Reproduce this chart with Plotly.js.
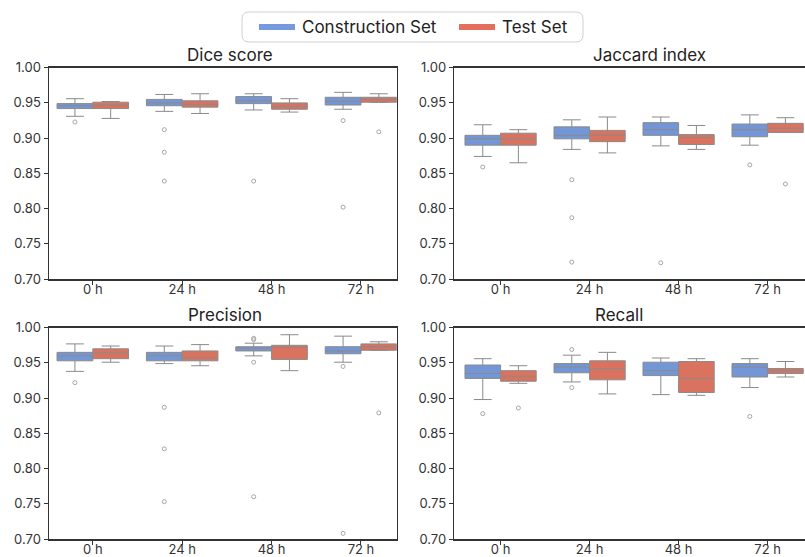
<!DOCTYPE html>
<html>
<head>
<meta charset="utf-8">
<script src="https://cdn.plot.ly/plotly-3.0.1.min.js"></script>
<style>
html,body{margin:0;padding:0;background:#fff;overflow:hidden;}
#chart{width:805px;height:557px;}
</style>
</head>
<body>
<div id="chart"></div>
<script>
// Categories and series
const timepoints = ['0 h', '24 h', '48 h', '72 h'];
const seriesNames = ['Construction Set', 'Test Set'];
const panelTitles = ['Dice score', 'Jaccard index', 'Precision', 'Recall'];

// Box statistics per time point: [lower whisker, Q1, median, Q3, upper whisker]
const diceCon = [[0.931,0.942,0.946,0.949,0.956],[0.938,0.946,0.950,0.955,0.962],[0.940,0.949,0.953,0.959,0.963],[0.941,0.947,0.952,0.958,0.965]];
const diceTest = [[0.928,0.942,0.947,0.951,0.952],[0.935,0.944,0.948,0.953,0.963],[0.937,0.941,0.945,0.950,0.956],[0.951,0.951,0.955,0.958,0.963]];
const jaccardCon = [[0.874,0.890,0.899,0.904,0.919],[0.884,0.899,0.904,0.916,0.926],[0.889,0.904,0.912,0.922,0.930],[0.890,0.902,0.912,0.920,0.933]];
const jaccardTest = [[0.865,0.890,0.899,0.907,0.912],[0.879,0.895,0.904,0.911,0.930],[0.884,0.891,0.901,0.905,0.918],[0.908,0.908,0.914,0.921,0.929]];
const precisionCon = [[0.938,0.953,0.960,0.965,0.977],[0.949,0.953,0.960,0.965,0.974],[0.960,0.967,0.971,0.973,0.978],[0.951,0.963,0.967,0.973,0.988]];
const precisionTest = [[0.951,0.956,0.964,0.970,0.974],[0.946,0.953,0.957,0.967,0.976],[0.939,0.955,0.972,0.975,0.990],[0.968,0.968,0.973,0.977,0.980]];
const recallCon = [[0.898,0.928,0.935,0.947,0.956],[0.923,0.936,0.944,0.949,0.961],[0.905,0.932,0.939,0.951,0.957],[0.915,0.930,0.944,0.949,0.956]];
const recallTest = [[0.921,0.924,0.931,0.939,0.946],[0.906,0.926,0.942,0.953,0.965],[0.904,0.908,0.928,0.952,0.956],[0.930,0.935,0.939,0.942,0.952]];

// Outliers per time point
const diceConOut = [[0.923],[0.912,0.880,0.839],[0.839],[0.925,0.802]];
const diceTestOut = [[],[],[],[0.909]];
const jaccardConOut = [[0.859],[0.841,0.787,0.724],[0.723],[0.862]];
const jaccardTestOut = [[],[],[],[0.835]];
const precisionConOut = [[0.922],[0.887,0.828,0.753],[0.985,0.983,0.951,0.760],[0.945,0.708]];
const precisionTestOut = [[],[],[],[0.879]];
const recallConOut = [[0.878],[0.969,0.915],[],[0.874]];
const recallTestOut = [[0.886],[],[],[]];

const panels = [
  {con: diceCon, test: diceTest, conOut: diceConOut, testOut: diceTestOut},
  {con: jaccardCon, test: jaccardTest, conOut: jaccardConOut, testOut: jaccardTestOut},
  {con: precisionCon, test: precisionTest, conOut: precisionConOut, testOut: precisionTestOut},
  {con: recallCon, test: recallTest, conOut: recallConOut, testOut: recallTestOut}
];

const colors = ['#7396d7', '#d9735f'];
const legendColors = ['#7799dd', '#e3705c'];
const edge = '#8a8a8a';
const W = 805, H = 557;
const fontFam = 'Inter, "Noto Sans", sans-serif';

const traces = [];
panels.forEach((p, k) => {
  const ax = k === 0 ? '' : String(k + 1);
  [[p.con, p.conOut, -0.2, 0], [p.test, p.testOut, 0.2, 1]].forEach(([stats, outs, off, s]) => {
    const xs = timepoints.map((_, i) => i + off);
    traces.push({
      type: 'box', x: xs, name: seriesNames[s],
      lowerfence: stats.map(r => r[0]), q1: stats.map(r => r[1]), median: stats.map(r => r[2]),
      q3: stats.map(r => r[3]), upperfence: stats.map(r => r[4]),
      width: 0.4, whiskerwidth: 0.5, boxpoints: false,
      fillcolor: colors[s], line: {color: edge, width: 1},
      xaxis: 'x' + ax, yaxis: 'y' + ax, showlegend: false, hoverinfo: 'skip'
    });
    const ox = [], oy = [];
    outs.forEach((arr, i) => arr.forEach(v => { ox.push(i + off); oy.push(v); }));
    traces.push({
      type: 'scatter', mode: 'markers', x: ox, y: oy,
      marker: {symbol: 'circle-open', size: 4, color: '#a6a6a6', line: {width: 1, color: '#a6a6a6'}},
      xaxis: 'x' + ax, yaxis: 'y' + ax, showlegend: false, hoverinfo: 'skip'
    });
  });
});

const xDom = [[49 / W, 396.7 / W], [454.3 / W, 1]];
const yDom = [[1 - 279 / H, 1 - 67.7 / H], [1 - 539 / H, 1 - 327.7 / H]];
const xRanges = [[-0.49, 3.40], [-0.52, 3.42]];
const axFont = {family: fontFam, size: 13, color: '#333'};

// Legend (drawn manually to match the reference's rounded frame)
const legendLines = [[259, 295], [459, 495]];
const legendTextX = [300, 500];
const legendY = 27;

const layout = {
  width: W, height: H,
  margin: {l: 0, r: 0, t: 0, b: 0, autoexpand: false},
  paper_bgcolor: '#fff', plot_bgcolor: '#fff',
  showlegend: false,
  annotations: [],
  shapes: [{type: 'path', xref: 'paper', yref: 'paper', layer: 'below',
    path: (() => {
      const x0 = 242 / W, x1 = 583 / W, y0 = 1 - 42 / H, y1 = 1 - 12 / H, rx = 7 / W, ry = 7 / H;
      return `M ${x0 + rx} ${y0} L ${x1 - rx} ${y0} Q ${x1} ${y0} ${x1} ${y0 + ry} L ${x1} ${y1 - ry} Q ${x1} ${y1} ${x1 - rx} ${y1} L ${x0 + rx} ${y1} Q ${x0} ${y1} ${x0} ${y1 - ry} L ${x0} ${y0 + ry} Q ${x0} ${y0} ${x0 + rx} ${y0} Z`;
    })(),
    line: {color: '#d0d0d0', width: 1}, fillcolor: 'rgba(0,0,0,0)'}]
};

seriesNames.forEach((n, s) => {
  layout.shapes.push({type: 'line', xref: 'paper', yref: 'paper',
    x0: legendLines[s][0] / W, x1: legendLines[s][1] / W, y0: 1 - legendY / H, y1: 1 - legendY / H,
    line: {color: legendColors[s], width: 6}});
  layout.annotations.push({text: n, xref: 'paper', yref: 'paper',
    x: legendTextX[s] / W, y: 1 - legendY / H, xanchor: 'left', yanchor: 'middle',
    showarrow: false, font: {family: fontFam, size: 17, color: '#222'}});
});

const titlePos = [[230, 55], [649, 55], [225, 315], [619, 315]];
for (let k = 0; k < 4; k++) {
  const col = k % 2, row = Math.floor(k / 2);
  const ax = k === 0 ? '' : String(k + 1);
  layout['xaxis' + ax] = {
    domain: xDom[col], range: xRanges[col], anchor: 'y' + ax,
    tickmode: 'array', tickvals: timepoints.map((_, i) => i), ticktext: timepoints,
    showline: true, mirror: true, linecolor: '#333', linewidth: 1.5,
    ticks: 'outside', ticklen: 4, tickcolor: '#333', tickwidth: 1, ticklabelstandoff: -6,
    showgrid: false, zeroline: false, tickfont: axFont, automargin: false, fixedrange: true
  };
  layout['yaxis' + ax] = {
    domain: yDom[row], range: [0.7, 1.0], anchor: 'x' + ax,
    tickmode: 'linear', tick0: 0.7, dtick: 0.05, tickformat: '.2f',
    showline: true, mirror: col === 0, linecolor: '#333', linewidth: 1.5,
    ticks: 'outside', ticklen: 4, tickcolor: '#333', tickwidth: 1,
    showgrid: false, zeroline: false, tickfont: axFont, automargin: false, fixedrange: true
  };
  layout.annotations.push({
    text: panelTitles[k], xref: 'paper', yref: 'paper',
    x: titlePos[k][0] / W, y: 1 - titlePos[k][1] / H, xanchor: 'center', yanchor: 'middle',
    showarrow: false, font: {family: fontFam, size: 17, color: '#222'}
  });
}

Plotly.newPlot('chart', traces, layout, {displayModeBar: false, staticPlot: true});
</script>
</body>
</html>
